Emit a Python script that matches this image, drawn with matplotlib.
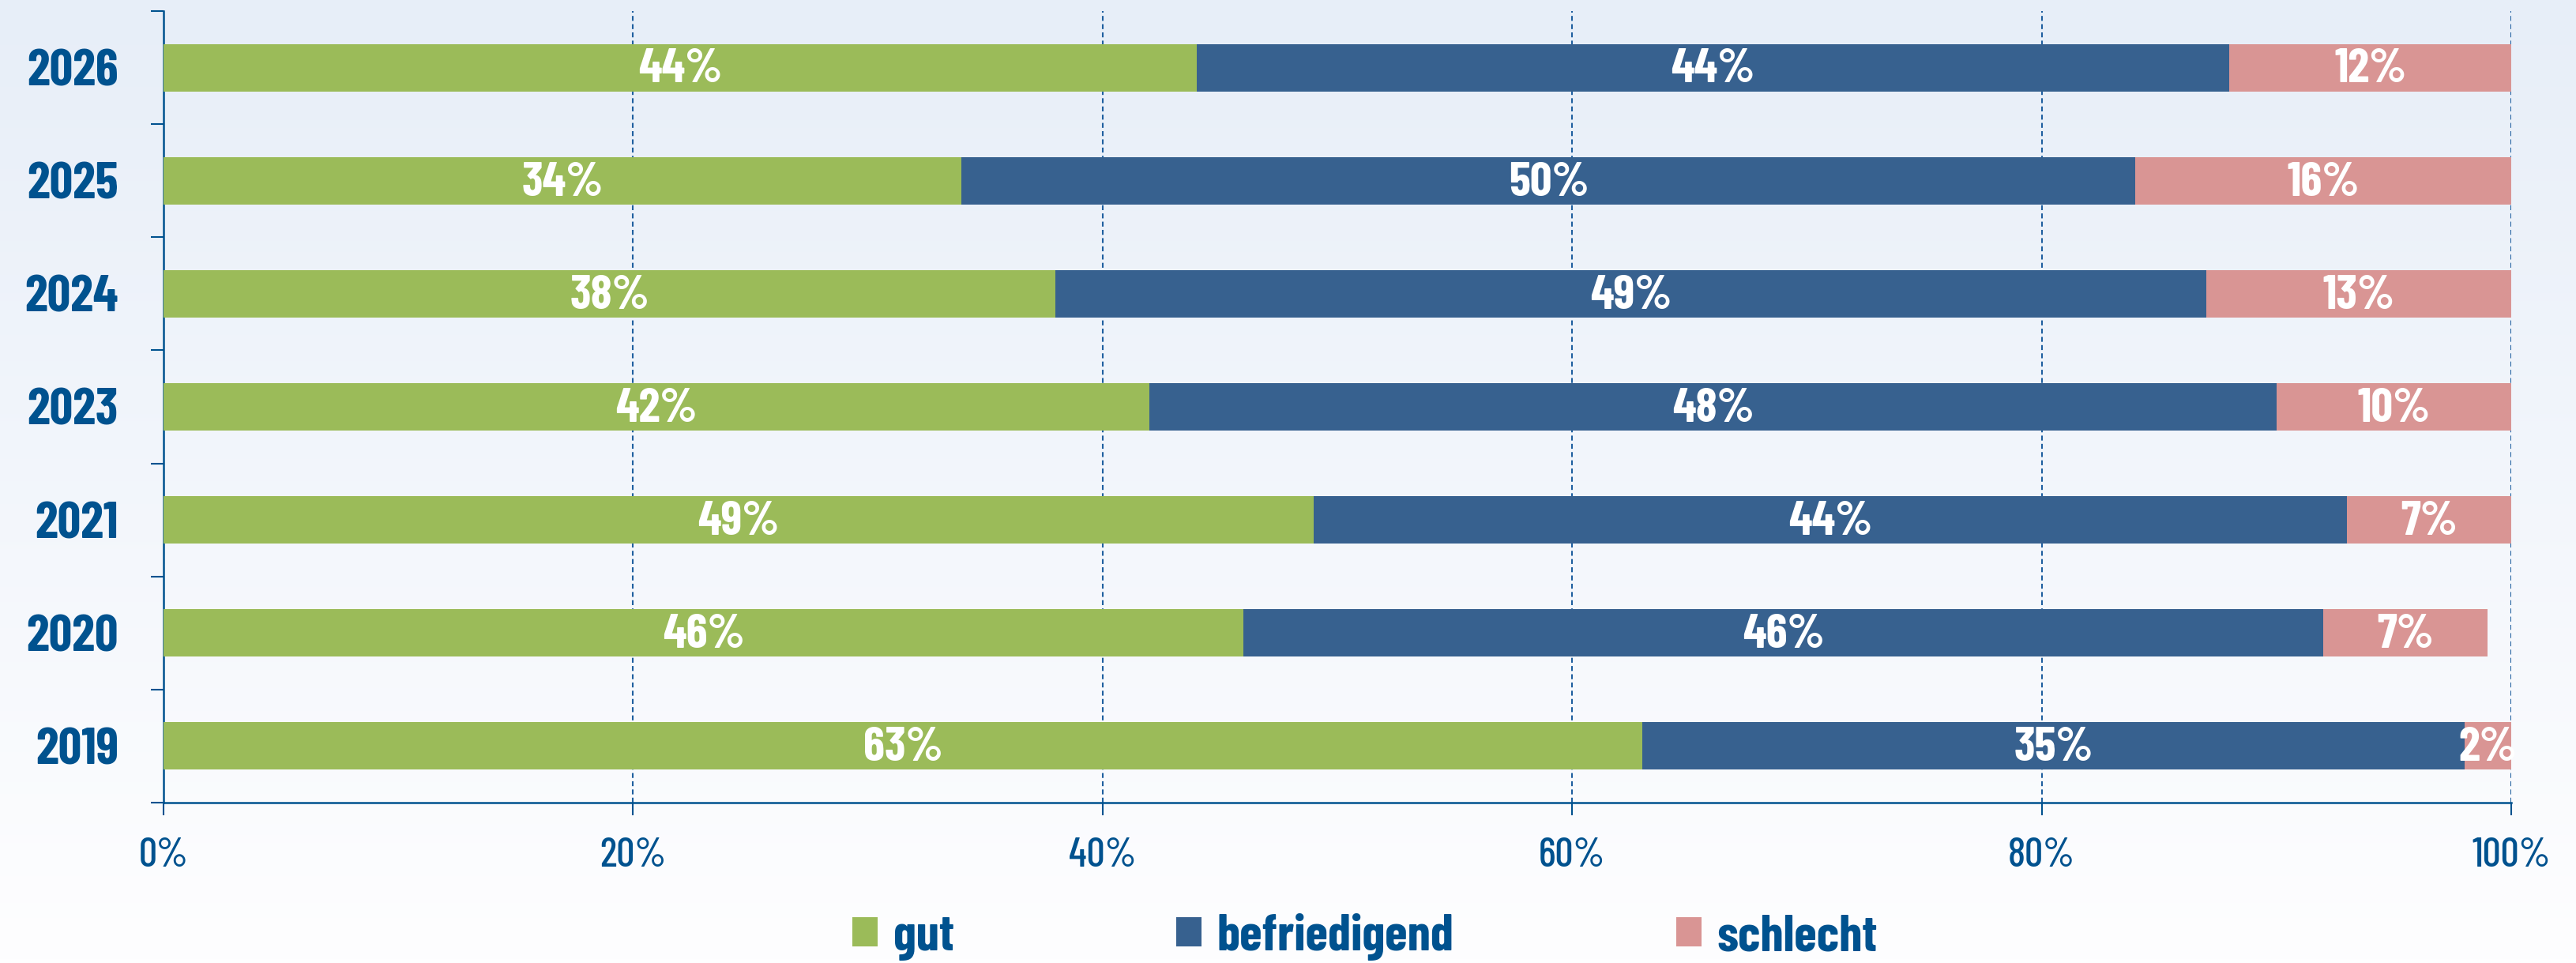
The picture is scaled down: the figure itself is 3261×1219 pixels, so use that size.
import matplotlib.pyplot as plt
import numpy as np

# data (percent)
years = ["2019", "2020", "2021", "2023", "2024", "2025", "2026"]
gut = [63, 46, 49, 42, 38, 34, 44]
befriedigend = [35, 46, 44, 48, 49, 50, 44]
schlecht = [2, 7, 7, 10, 13, 16, 12]
series_names = ["gut", "befriedigend", "schlecht"]
x_ticks = [0, 20, 40, 60, 80, 100]

colors = ["#9BBB59", "#37618F", "#D99594"]
text_blue = "#00528F"
font = ["Barlow Condensed", "DejaVu Sans"]

plt.rcParams["font.family"] = font

W, H, DPI = 3262, 1219, 100
fig = plt.figure(figsize=(W / DPI, H / DPI), dpi=DPI)

# soft vertical gradient background
bg = fig.add_axes([0, 0, 1, 1], zorder=-10)
top_rgb = np.array([0xE7, 0xEE, 0xF8]) / 255
bot_rgb = np.array([0xFE, 0xFE, 0xFF]) / 255
t = np.linspace(0, 1, 256)[:, None]
grad = (top_rgb * (1 - t) + bot_rgb * t)[:, None, :]
bg.imshow(grad, aspect="auto", extent=[0, 1, 0, 1])
bg.axis("off")

ax = fig.add_axes([207 / W, 1 - 1016 / H, (3179 - 207) / W, (1016 - 14) / H])
ax.set_facecolor("none")

y = np.arange(len(years))
left = np.zeros(len(years))
for name, vals, c in zip(series_names, [gut, befriedigend, schlecht], colors):
    vals = np.array(vals, dtype=float)
    ax.barh(y, vals, left=left, height=0.42, color=c, label=name, zorder=3)
    for yi, (l, v) in enumerate(zip(left, vals)):
        ax.text(l + v / 2, yi - 0.02, f"{int(v)}%", ha="center", va="center",
                color="white", fontsize=44, fontweight="bold", zorder=4)
    left += vals

ax.set_xlim(0, 100)
ax.set_ylim(-0.5, len(years) - 0.5)

ax.set_xticks(x_ticks)
ax.set_xticklabels([f"{v}%" for v in x_ticks], fontsize=37, color=text_blue,
                   fontweight="medium")
ax.tick_params(axis="x", length=11.5, width=1.5, color=text_blue, pad=20)

ax.set_yticks(y)
ax.set_yticklabels(years, fontsize=47, fontweight="bold", color=text_blue)
ax.set_yticks(np.arange(-0.5, len(years)), minor=True)
ax.tick_params(axis="y", which="major", length=0, pad=41)
ax.tick_params(axis="y", which="minor", length=11.5, width=1.5, color=text_blue)

ax.grid(axis="x", color="#1F5F9F", linestyle=(0, (3, 2)), linewidth=1.5, zorder=1)
for spine in ["top", "right"]:
    ax.spines[spine].set_visible(False)
for spine in ["left", "bottom"]:
    ax.spines[spine].set_color(text_blue)
    ax.spines[spine].set_linewidth(1.8)

leg = fig.legend(loc="center", bbox_to_anchor=(1728 / W, 1 - 1186 / H), ncol=3,
                 frameon=False, handlelength=0.5, handleheight=0.5,
                 handletextpad=0.3, columnspacing=4.3,
                 prop={"family": font, "weight": "bold", "size": 47})
for txt in leg.get_texts():
    txt.set_color(text_blue)

fig.savefig("out.png", dpi=DPI)
